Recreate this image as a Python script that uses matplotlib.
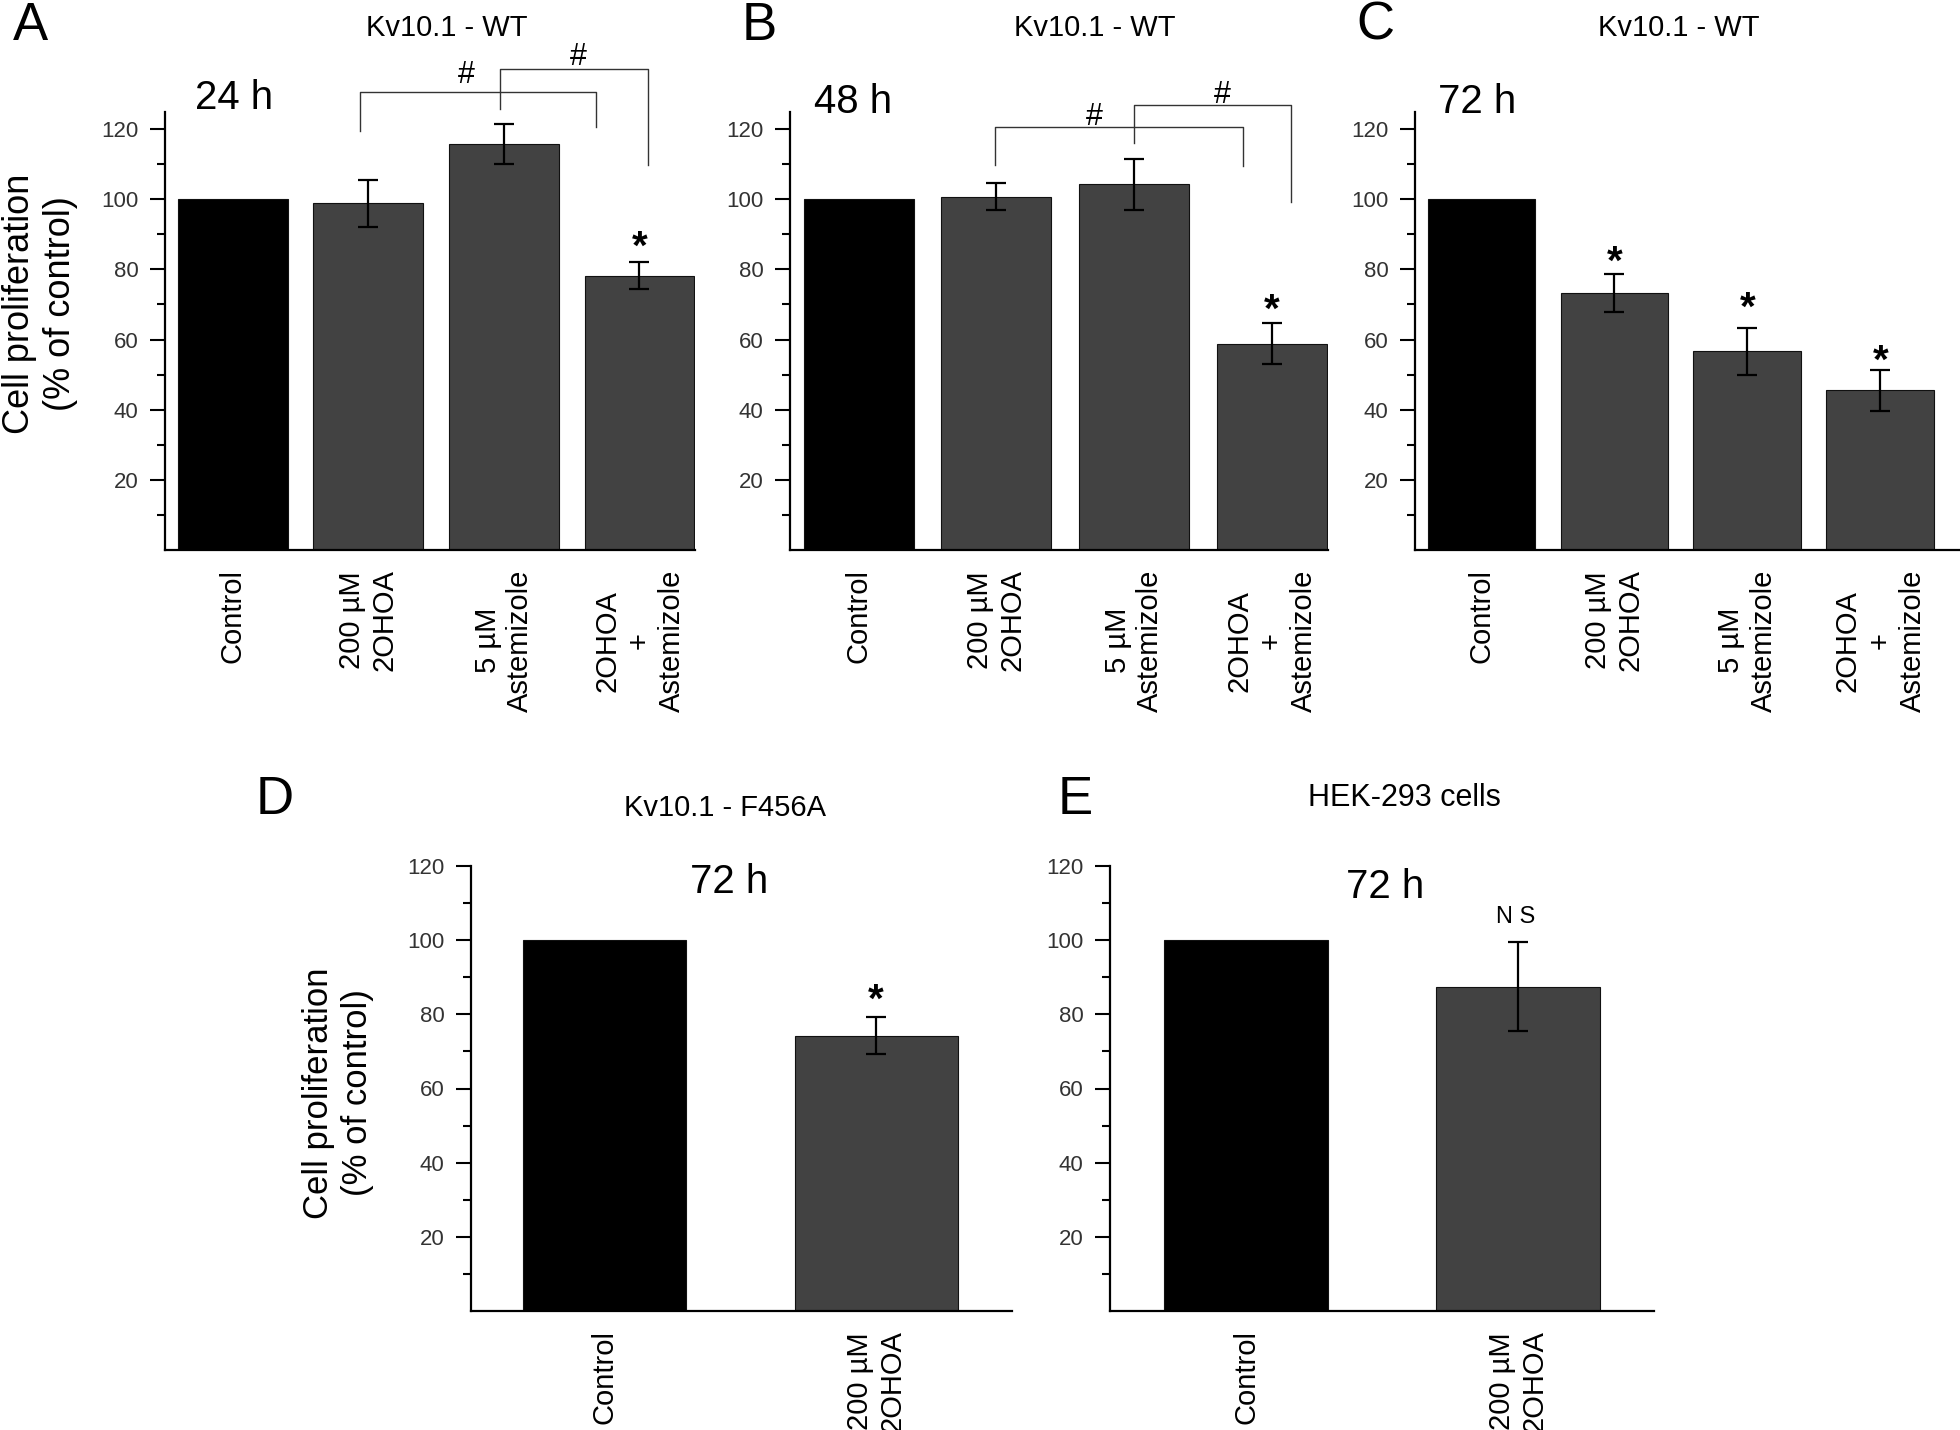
import matplotlib
matplotlib.use("Agg")
import matplotlib.pyplot as plt
import numpy as np

plt.rcParams['font.family'] = ['Liberation Sans', 'DejaVu Sans']

W, H = 1960, 1430

# data
wt_labels = ['Control', '200 \u00b5M\n2OHOA', '5 \u00b5M\nAstemizole', '2OHOA\n+\nAstemizole']
two_labels = ['Control', '200 \u00b5M\n2OHOA']

a_vals = [100, 98.8, 115.8, 78.2]
a_err = [0, 6.6, 5.7, 3.9]
b_vals = [100, 100.7, 104.2, 58.8]
b_err = [0, 3.8, 7.3, 5.8]
c_vals = [100, 73.2, 56.7, 45.5]
c_err = [0, 5.4, 6.7, 5.9]
d_vals = [100, 74.2]
d_err = [0, 5.0]
e_vals = [100, 87.5]
e_err = [0, 12.1]

bar_colors = ['#000000', '#424242', '#424242', '#424242']

fig = plt.figure(figsize=(W / 100, H / 100), dpi=100)


def px_axes(left, right, top, bottom):
    return fig.add_axes([left / W, 1 - bottom / H, (right - left) / W, (bottom - top) / H])


def ftext(x, y, s, **kw):
    fig.text(x / W, 1 - y / H, s, **kw)


def bar_panel(ax, vals, err, labels, width, xlim, ylim):
    x = np.arange(len(vals))
    ax.bar(x, vals, width=width, color=bar_colors[:len(vals)],
           edgecolor='#111111', linewidth=0.8, zorder=2)
    for xi, v, e in zip(x, vals, err):
        if e > 0:
            ax.errorbar(xi, v, yerr=e, fmt='none', ecolor='black',
                        elinewidth=1.6, capsize=7.5, capthick=1.6, zorder=3)
    ax.set_xlim(*xlim)
    ax.set_ylim(*ylim)
    ax.set_xticks(x)
    ax.set_xticklabels(labels, rotation=90, ha='center', va='top',
                       multialignment='center', linespacing=1.2, fontsize=21)
    ax.tick_params(axis='x', length=0, pad=14)
    ax.set_yticks([20, 40, 60, 80, 100, 120])
    ax.set_yticks([10, 30, 50, 70, 90, 110], minor=True)
    ax.tick_params(axis='y', which='major', length=11, width=1.5, pad=8,
                   labelsize=16, labelcolor='#333333', direction='out')
    ax.tick_params(axis='y', which='minor', length=6, width=1.5, direction='out')
    for s in ['top', 'right']:
        ax.spines[s].set_visible(False)
    for s in ['left', 'bottom']:
        ax.spines[s].set_linewidth(1.6)


def mark(ax, x, y, s, fs, frac, weight='normal'):
    # place glyph so its visual centre sits at y
    ax.annotate(s, (x, y), xytext=(0, -frac * fs), textcoords='offset points',
                ha='center', va='baseline', fontsize=fs, fontweight=weight,
                annotation_clip=False)


def star(ax, x, y):
    mark(ax, x, y, '*', 29, 0.58, 'bold')


def bracket(ax, xs, ys):
    ax.plot(xs, ys, color='#333333', lw=1.0, clip_on=False, zorder=4)


# ---- A ----
axA = px_axes(165, 695, 111.5, 550)
bar_panel(axA, a_vals, a_err, wt_labels, 0.81, (-0.5, 3.41), (0, 125))
bracket(axA, [0.94, 0.94, 2.68, 2.68], [119.5, 130.5, 130.5, 120.7])
bracket(axA, [1.97, 1.97, 3.06, 3.06], [125.6, 137.2, 137.2, 109.7])
mark(axA, 1.72, 136.1, '#', 22, 0.35)
mark(axA, 2.55, 141.3, '#', 22, 0.35)
star(axA, 3, 89.6)
axA.text(0.01, 125.6, '24 h', fontsize=29, ha='center', va='baseline')

# ---- B ----
axB = px_axes(790, 1328, 111.5, 550)
bar_panel(axB, b_vals, b_err, wt_labels, 0.80, (-0.5, 3.41), (0, 125))
bracket(axB, [0.99, 0.99, 2.79, 2.79], [109.8, 120.5, 120.5, 109.5])
bracket(axB, [2.0, 2.0, 3.14, 3.14], [116.1, 126.9, 126.9, 99.1])
mark(axB, 1.71, 124.2, '#', 22, 0.35)
mark(axB, 2.64, 130.5, '#', 22, 0.35)
star(axB, 3, 71.6)
axB.text(-0.04, 124.6, '48 h', fontsize=29, ha='center', va='baseline')

# ---- C ----
axC = px_axes(1415, 1960, 111.5, 550)
bar_panel(axC, c_vals, c_err, wt_labels, 0.81, (-0.5, 3.6), (0, 125))
for xi, ys in zip([1, 2, 3], [85.5, 72.4, 57.1]):
    star(axC, xi, ys)
axC.text(-0.03, 124.7, '72 h', fontsize=29, ha='center', va='baseline')

# ---- D ----
axD = px_axes(471, 1012, 866, 1311)
bar_panel(axD, d_vals, d_err, two_labels, 0.60, (-0.49, 1.5), (0, 120))
star(axD, 1, 86.9)
axD.text(0.46, 112.7, '72 h', fontsize=29, ha='center', va='baseline')

# ---- E ----
axE = px_axes(1110, 1654, 866, 1311)
bar_panel(axE, e_vals, e_err, two_labels, 0.60, (-0.5, 1.5), (0, 120))
mark(axE, 0.99, 106.8, 'N S', 17, 0.36)
axE.text(0.51, 111.4, '72 h', fontsize=29, ha='center', va='baseline')

# panel letters and titles
for x, y, s in [(30, 26, 'A'), (759, 26, 'B'), (1375, 26, 'C'), (275, 800, 'D'), (1075, 800, 'E')]:
    ftext(x, y, s, fontsize=38, ha='center', va='center')
for x, y, s, fs in [(447, 28, 'Kv10.1 - WT', 21), (1095, 28, 'Kv10.1 - WT', 21),
                    (1679, 28, 'Kv10.1 - WT', 21), (725, 808, 'Kv10.1 - F456A', 21),
                    (1404, 798, 'HEK-293 cells', 22)]:
    ftext(x, y, s, fontsize=fs, ha='center', va='center')

# y labels
ylab = 'Cell proliferation\n(% of control)'
ftext(40, 304, ylab, fontsize=26, rotation=90, ha='center', va='center',
      multialignment='center', linespacing=1.25)
ftext(338, 1093, ylab, fontsize=25, rotation=90, ha='center', va='center',
      multialignment='center', linespacing=1.25)

fig.savefig('out.png', dpi=100, facecolor='white')
